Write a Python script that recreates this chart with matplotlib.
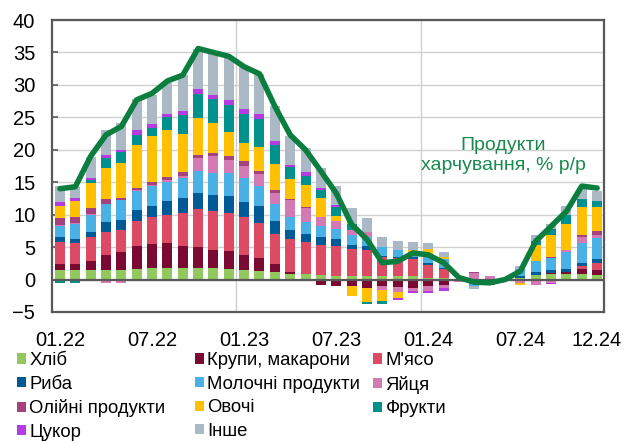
import numpy as np
import matplotlib
matplotlib.use('Agg')
import matplotlib.pyplot as plt
from matplotlib.patches import Patch

plt.rcParams['font.family'] = ['Liberation Sans', 'DejaVu Sans']

months = ['01.22', '02.22', '03.22', '04.22', '05.22', '06.22', '07.22', '08.22', '09.22', '10.22', '11.22', '12.22',
          '01.23', '02.23', '03.23', '04.23', '05.23', '06.23', '07.23', '08.23', '09.23', '10.23', '11.23', '12.23',
          '01.24', '02.24', '03.24', '04.24', '05.24', '06.24', '07.24', '08.24', '09.24', '10.24', '11.24', '12.24']
tick_labels = ['01.22', '07.22', '01.23', '07.23', '01.24', '07.24', '12.24']

# внески груп, в.п.
khlib = [1.4, 1.4, 1.4, 1.4, 1.5, 1.7, 1.8, 1.8, 1.8, 1.8, 1.8, 1.7, 1.5, 1.3, 1.2, 0.9, 0.9, 0.7,
         0.6, 0.6, 0.6, 0.5, 0.5, 0.5, 0.3, 0.2, 0, 0, 0, 0, 0.3, 0.7, 0.8, 0.9, 0.9, 0.7]
krupy = [1.0, 1.0, 1.4, 2.4, 2.8, 3.4, 3.7, 3.8, 3.4, 3.2, 2.8, 2.7, 2.3, 2.0, 1.2, 0.3, -0.2, -0.8,
         -1.0, -1.0, -1.3, -1.0, -1.1, -1.3, -1.0, -0.9, 0, 0, 0, 0, 0, 0, 0.15, 0.25, 0.7, 0.7]
miaso = [3.4, 3.2, 3.7, 3.6, 3.3, 3.9, 4.1, 4.4, 5.1, 5.9, 5.9, 5.8, 5.8, 5.4, 4.6, 5.0, 4.9, 4.7,
         4.6, 4.1, 4.0, 2.9, 2.8, 2.7, 1.9, 1.4, 0, 0, 0, 0, 0, 0, 0, 0, 0.5, 1.2]
ryba = [0.7, 0.7, 0.9, 1.4, 1.6, 1.7, 1.8, 2.1, 2.3, 2.5, 2.6, 2.6, 2.4, 2.6, 2.1, 1.5, 1.2, 1.1,
        1.0, 0.7, 0.5, 0.3, 0.1, 0.2, 0.4, 0.2, 0, 0, 0, 0, 0.25, 0.4, 0.5, 0.5, 0.5, 0.6]
moloko = [1.7, 2.2, 2.6, 2.8, 3.0, 3.0, 3.0, 3.0, 3.0, 3.3, 3.3, 3.6, 3.6, 3.1, 2.5, 2.0, 1.9, 1.7,
          1.6, 1.5, 1.5, 1.3, 1.2, 0.8, 0.8, 1.4, 0, -1.0, 0, 0, 1.0, 1.7, 1.9, 2.6, 3.0, 3.2]
yaitsia = [0.25, 0.2, 0.1, -0.6, -0.6, 0.05, 0.2, 0.2, 0.4, 2.0, 2.6, 2.0, 1.9, 1.9, 1.8, 2.5, 2.2, 1.5,
           1.2, 0.8, 0.8, -0.6, -0.8, -0.5, -0.8, -0.4, -0.3, 1.0, 0.6, 0, -0.5, -0.9, -0.6, 0.25, 0.9, 0.4]
oliini = [1.1, 0.9, 0.9, 0.8, 0.4, 0.3, 0.4, 0.5, 0.5, 0.5, 0.5, 0.6, 0.7, 0.5, 0.4, 0.2, 0.1, 0,
          0, 0, 0, 0, 0, 0, 0, 0, 0, 0.2, -0.9, 0, 0, 0, 0.1, 0, 0.35, 0.7]
ovochi = [1.8, 2.5, 3.9, 4.8, 5.3, 6.7, 7.2, 7.2, 5.9, 5.7, 4.6, 3.7, 2.9, 3.6, 4.0, 3.1, 3.4, 2.8,
          0.8, -1.6, -2.1, -1.7, -0.9, 0.4, 1.3, 0.3, 0, 0, 0, 0, -0.4, 2.6, 3.4, 4.0, 4.3, 3.7]
frukty = [-0.5, -0.5, 0.4, 1.5, 1.7, 1.6, 1.2, 2.0, 2.9, 3.7, 3.7, 4.2, 4.4, 4.3, 3.0, 1.8, 1.4, 1.3,
          1.4, 0.8, -0.3, -0.5, 0, 0, 0, 0, 0, 0, 0, 0, 0, 0.5, 0.9, 1.4, 1.2, 0.9]
tsukor = [0.6, 0.4, 0.4, 0.5, 0.3, 0.7, 0.5, 0.5, 0.7, 0.8, 0.7, 0.8, 0.8, 0.8, 0.6, 0.4, 0.6, 0.3,
          0.3, 0, 0, 0, -0.3, -0.3, -0.2, -0.4, 0, 0, 0, 0, 0, 0, -0.1, 0, 0, 0]
inshe = [2.4, 1.7, 3.2, 3.8, 4.3, 4.7, 4.6, 4.8, 5.5, 6.2, 6.4, 6.4, 6.5, 6.2, 5.4, 4.5, 3.7, 3.1,
         2.9, 2.5, 2.1, 1.5, 1.3, 1.2, 1.0, 0.8, 0, -0.4, 0, 0, 0.6, 0.9, 0.8, 1.5, 1.7, 1.5]

# продукти харчування, % р/р
food = [14.0, 14.3, 19.0, 22.3, 23.6, 27.7, 28.7, 30.6, 31.5, 35.6, 35.0, 34.4, 32.8, 31.7, 26.7, 22.3,
        20.0, 16.7, 13.3, 8.5, 6.2, 2.6, 2.8, 4.1, 3.8, 2.6, 0.3, -0.4, -0.5, 0.0, 1.3, 5.9, 8.2, 10.5, 14.4, 14.1]

names = ['Хліб', 'Крупи, макарони', "М'ясо", 'Риба', 'Молочні продукти', 'Яйця',
         'Олійні продукти', 'Овочі', 'Фрукти', 'Цукор', 'Інше']
series = [khlib, krupy, miaso, ryba, moloko, yaitsia, oliini, ovochi, frukty, tsukor, inshe]
colors = ['#92C95F', '#7A0A32', '#DC4A64', '#005A96', '#4AB1E6', '#D379B3',
          '#A3427C', '#FFC000', '#00918C', '#B53BE3', '#AAB9C5']

fig = plt.figure(figsize=(6.24, 4.43), dpi=100)
ax = fig.add_axes([52 / 624, 1 - 312 / 443, 552 / 624, 292 / 443])

x = np.arange(len(months))
pos_bottom = np.zeros(len(months))
neg_bottom = np.zeros(len(months))
for vals, col, name in zip(series, colors, names):
    v = np.array(vals, dtype=float)
    bottom = np.where(v >= 0, pos_bottom, neg_bottom)
    ax.bar(x, v, width=0.65, bottom=bottom, color=col, label=name, zorder=3)
    pos_bottom += np.where(v > 0, v, 0)
    neg_bottom += np.where(v < 0, v, 0)

ax.plot(x, food, color='#0B7D3E', lw=4, solid_joinstyle='round', solid_capstyle='round', zorder=5)

ax.set_xlim(-0.52, 35.45)
ax.set_ylim(-5, 40)
ax.set_yticks(range(-5, 41, 5))
ax.set_xticks([months.index(t) for t in tick_labels])
ax.set_xticklabels(tick_labels)
ax.grid(axis='y', color='#D0D0D0', lw=1, zorder=0)
for xv in [11.5, 23.5]:
    ax.axvline(xv, color='#D0D0D0', lw=1, zorder=0)
ax.axhline(0, color='#595959', lw=1.6, zorder=4)
for s in ax.spines.values():
    s.set_color('#595959')
    s.set_linewidth(1.6)
ax.tick_params(axis='y', direction='in', length=4, width=1.2, color='#595959', labelsize=14.5, pad=12)
ax.tick_params(axis='x', length=0, labelsize=14.5, pad=14)

ax.text(28.9, 19.1, 'Продукти\nхарчування, % р/р', color='#1A8A4E', fontsize=14,
        ha='center', va='center', linespacing=1.2, zorder=6)

handles = [Patch(facecolor=c, edgecolor='none') for c in colors]
cols = [[0, 3, 6, 9], [1, 4, 7, 10], [2, 5, 8]]
xs = [17, 195, 373]
for idx, xpos in zip(cols, xs):
    fig.legend([handles[i] for i in idx], [names[i] for i in idx],
               loc='upper left', bbox_to_anchor=(xpos / 624, 1 - 352 / 443),
               frameon=False, fontsize=13.3, handlelength=0.47, handleheight=0.47,
               handletextpad=0.2, labelspacing=0.36, borderpad=0, borderaxespad=0)

fig.savefig('out.png', dpi=100)
